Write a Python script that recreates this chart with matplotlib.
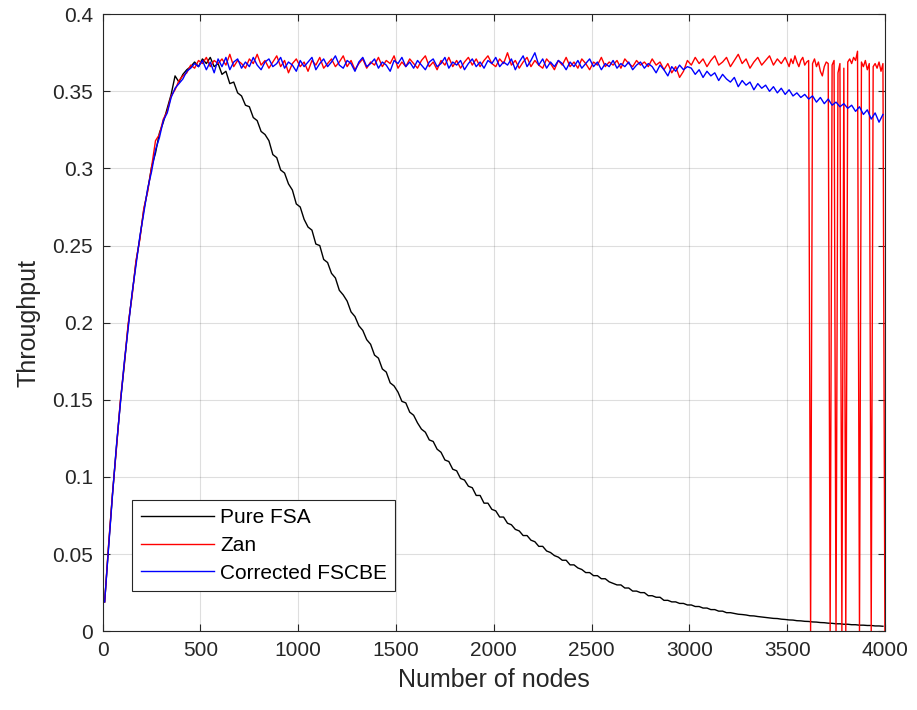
import numpy as np
import matplotlib
matplotlib.use("Agg")
import matplotlib.pyplot as plt
from matplotlib.ticker import FormatStrFormatter

# number of nodes (common grid, every 20 nodes)
nodes = list(range(10, 4000, 20))

pure_fsa = [
    0.019, 0.055, 0.089, 0.119, 0.148, 0.172, 0.198, 0.218, 0.239, 0.255,
    0.273, 0.286, 0.301, 0.310, 0.323, 0.330, 0.339, 0.348, 0.360, 0.356,
    0.361, 0.364, 0.366, 0.369, 0.366, 0.371, 0.368, 0.372, 0.366, 0.368,
    0.361, 0.363, 0.355, 0.356, 0.349, 0.347, 0.341, 0.340, 0.333, 0.331,
    0.324, 0.322, 0.318, 0.309, 0.307, 0.299, 0.297, 0.290, 0.286, 0.277,
    0.275, 0.267, 0.262, 0.260, 0.251, 0.250, 0.241, 0.239, 0.232, 0.229,
    0.221, 0.218, 0.214, 0.207, 0.204, 0.198, 0.195, 0.189, 0.186, 0.179,
    0.177, 0.170, 0.168, 0.161, 0.159, 0.155, 0.149, 0.148, 0.142, 0.140,
    0.135, 0.131, 0.129, 0.124, 0.123, 0.118, 0.116, 0.111, 0.110, 0.105,
    0.104, 0.099, 0.098, 0.094, 0.093, 0.088, 0.088, 0.083, 0.083, 0.079,
    0.078, 0.074, 0.074, 0.070, 0.069, 0.066, 0.065, 0.062, 0.062, 0.059,
    0.058, 0.055, 0.055, 0.052, 0.051, 0.049, 0.048, 0.046, 0.046, 0.043,
    0.043, 0.041, 0.040, 0.038, 0.038, 0.036, 0.036, 0.034, 0.034, 0.032,
    0.031, 0.030, 0.030, 0.028, 0.028, 0.026, 0.026, 0.025, 0.025, 0.023,
    0.023, 0.022, 0.022, 0.020, 0.020, 0.019, 0.019, 0.018, 0.018, 0.017,
    0.017, 0.016, 0.016, 0.015, 0.015, 0.014, 0.014, 0.013, 0.013, 0.012,
    0.012, 0.0115, 0.011, 0.0108, 0.0105, 0.010, 0.0099, 0.0095, 0.0092, 0.0089,
    0.0086, 0.0083, 0.0082, 0.0078, 0.0076, 0.0073, 0.0072, 0.0068, 0.0067, 0.0064,
    0.0063, 0.0060, 0.0059, 0.0056, 0.0055, 0.0052, 0.0051, 0.0048, 0.0048, 0.0045,
    0.0045, 0.0042, 0.0042, 0.0039, 0.0039, 0.0037, 0.0037, 0.0034, 0.0034, 0.0032,
]

corrected_fscbe = [
    0.019, 0.054, 0.088, 0.120, 0.147, 0.174, 0.196, 0.219, 0.237, 0.256,
    0.271, 0.287, 0.298, 0.312, 0.320, 0.331, 0.336, 0.346, 0.352, 0.355,
    0.358, 0.363, 0.365, 0.368, 0.366, 0.370, 0.364, 0.369, 0.362, 0.371,
    0.366, 0.372, 0.364, 0.369, 0.371, 0.365, 0.369, 0.366, 0.372, 0.367,
    0.364, 0.369, 0.371, 0.366, 0.368, 0.372, 0.365, 0.369, 0.367, 0.363,
    0.370, 0.366, 0.369, 0.372, 0.364, 0.368, 0.371, 0.366, 0.369, 0.373,
    0.367, 0.365, 0.370, 0.368, 0.363, 0.369, 0.372, 0.366, 0.368, 0.371,
    0.365, 0.369, 0.367, 0.363, 0.370, 0.368, 0.372, 0.366, 0.369, 0.365,
    0.370, 0.367, 0.364, 0.369, 0.371, 0.366, 0.368, 0.372, 0.365, 0.369,
    0.367, 0.370, 0.364, 0.368, 0.371, 0.366, 0.369, 0.365, 0.370, 0.368,
    0.372, 0.366, 0.369, 0.367, 0.371, 0.364, 0.369, 0.373, 0.366, 0.370,
    0.375, 0.367, 0.371, 0.365, 0.369, 0.366, 0.370, 0.368, 0.364, 0.369,
    0.366, 0.370, 0.365, 0.368, 0.371, 0.366, 0.369, 0.364, 0.368, 0.366,
    0.370, 0.365, 0.368, 0.366, 0.369, 0.364, 0.367, 0.369, 0.365, 0.368,
    0.366, 0.362, 0.367, 0.364, 0.360, 0.366, 0.363, 0.367, 0.364, 0.366,
    0.365, 0.361, 0.364, 0.359, 0.363, 0.360, 0.362, 0.357, 0.361, 0.358,
    0.356, 0.359, 0.353, 0.357, 0.354, 0.356, 0.351, 0.355, 0.352, 0.354,
    0.350, 0.353, 0.349, 0.352, 0.348, 0.351, 0.347, 0.349, 0.346, 0.348,
    0.345, 0.347, 0.343, 0.346, 0.342, 0.345, 0.341, 0.343, 0.340, 0.342,
    0.339, 0.341, 0.337, 0.340, 0.335, 0.338, 0.332, 0.336, 0.330, 0.335,
]

# Zan: same grid up to 3490, then every 10 nodes to 4000 (drop-outs to zero)
zan_head = [
    0.019, 0.056, 0.089, 0.118, 0.149, 0.173, 0.199, 0.217, 0.240, 0.254,
    0.274, 0.285, 0.301, 0.318, 0.322, 0.332, 0.337, 0.347, 0.351, 0.357,
    0.360, 0.362, 0.367, 0.365, 0.370, 0.368, 0.372, 0.366, 0.370, 0.368,
    0.371, 0.367, 0.374, 0.366, 0.370, 0.368, 0.365, 0.371, 0.368, 0.374,
    0.367, 0.370, 0.365, 0.369, 0.373, 0.366, 0.370, 0.362, 0.368, 0.371,
    0.366, 0.369, 0.363, 0.370, 0.367, 0.372, 0.365, 0.368, 0.371, 0.366,
    0.369, 0.373, 0.366, 0.370, 0.364, 0.368, 0.371, 0.365, 0.369, 0.367,
    0.372, 0.366, 0.370, 0.368, 0.373, 0.365, 0.369, 0.366, 0.371, 0.368,
    0.365, 0.370, 0.373, 0.366, 0.369, 0.364, 0.370, 0.367, 0.372, 0.366,
    0.370, 0.365, 0.369, 0.372, 0.367, 0.371, 0.366, 0.370, 0.373, 0.368,
    0.366, 0.371, 0.368, 0.375, 0.367, 0.370, 0.365, 0.369, 0.372, 0.366,
    0.370, 0.367, 0.365, 0.371, 0.368, 0.364, 0.370, 0.367, 0.372, 0.366,
    0.369, 0.365, 0.371, 0.368, 0.364, 0.369, 0.367, 0.372, 0.366, 0.369,
    0.367, 0.370, 0.365, 0.371, 0.368, 0.366, 0.370, 0.367, 0.369, 0.366,
    0.371, 0.367, 0.369, 0.364, 0.368, 0.362, 0.366, 0.359, 0.363, 0.370,
    0.367, 0.372, 0.368, 0.371, 0.366, 0.370, 0.373, 0.367, 0.369, 0.372,
    0.366, 0.370, 0.374, 0.368, 0.371, 0.365, 0.369, 0.372, 0.367, 0.370,
    0.373, 0.367, 0.371, 0.368, 0.372,
]
zan_tail_nodes = list(range(3500, 4001, 10))
zan_tail = [
    0.369, 0.366, 0.371, 0.368, 0.373, 0.369, 0.366, 0.370, 0.372, 0.367,
    0.369, 0.370, 0.0, 0.368, 0.371, 0.366, 0.369, 0.363, 0.360, 0.366,
    0.369, 0.368, 0.0, 0.367, 0.370, 0.0, 0.362, 0.368, 0.0, 0.365,
    0.0, 0.369, 0.371, 0.368, 0.372, 0.370, 0.376, 0.0, 0.369, 0.366,
    0.370, 0.364, 0.368, 0.0, 0.366, 0.368, 0.365, 0.369, 0.363, 0.368,
    0.0,
]

zan_x = nodes[:len(zan_head)] + zan_tail_nodes
zan_y = zan_head + zan_tail

plt.rcParams["font.family"] = ["Liberation Sans", "DejaVu Sans"]
txt = "#262626"

fig = plt.figure(figsize=(9.17, 7.1), dpi=100)
ax = fig.add_axes([0.112, 0.111, 0.853, 0.869])

ax.plot(nodes, pure_fsa, color="black", lw=1.0, label="Pure FSA")
ax.plot(zan_x, zan_y, color="red", lw=1.0, label="Zan")
ax.plot(nodes, corrected_fscbe, color="blue", lw=1.0, label="Corrected FSCBE")

ax.set_xlim(0, 4000)
ax.set_ylim(0, 0.4)
ax.set_xticks(np.arange(0, 4001, 500))
ax.set_yticks(np.arange(0, 0.401, 0.05))
ax.yaxis.set_major_formatter(FormatStrFormatter("%g"))
ax.grid(True, color="#262626", alpha=0.15, lw=0.8)
ax.tick_params(direction="in", top=True, right=True, length=5, width=0.8,
               colors=txt, labelsize=15, pad=7)
for s in ax.spines.values():
    s.set_color(txt)
    s.set_linewidth(0.8)

ax.set_xlabel("Number of nodes", fontsize=18, color=txt, labelpad=6)
ax.set_ylabel("Throughput", fontsize=18, color=txt, labelpad=8)

leg = ax.legend(loc="lower left", bbox_to_anchor=(0.038, 0.065), fontsize=15,
                handlelength=3.5, fancybox=False, framealpha=1,
                edgecolor=txt, borderpad=0.4, labelspacing=0.42,
                handletextpad=0.3, borderaxespad=0)
leg.get_frame().set_linewidth(0.8)
for t in leg.get_texts():
    t.set_color("black")

fig.savefig("out.png", dpi=100)
